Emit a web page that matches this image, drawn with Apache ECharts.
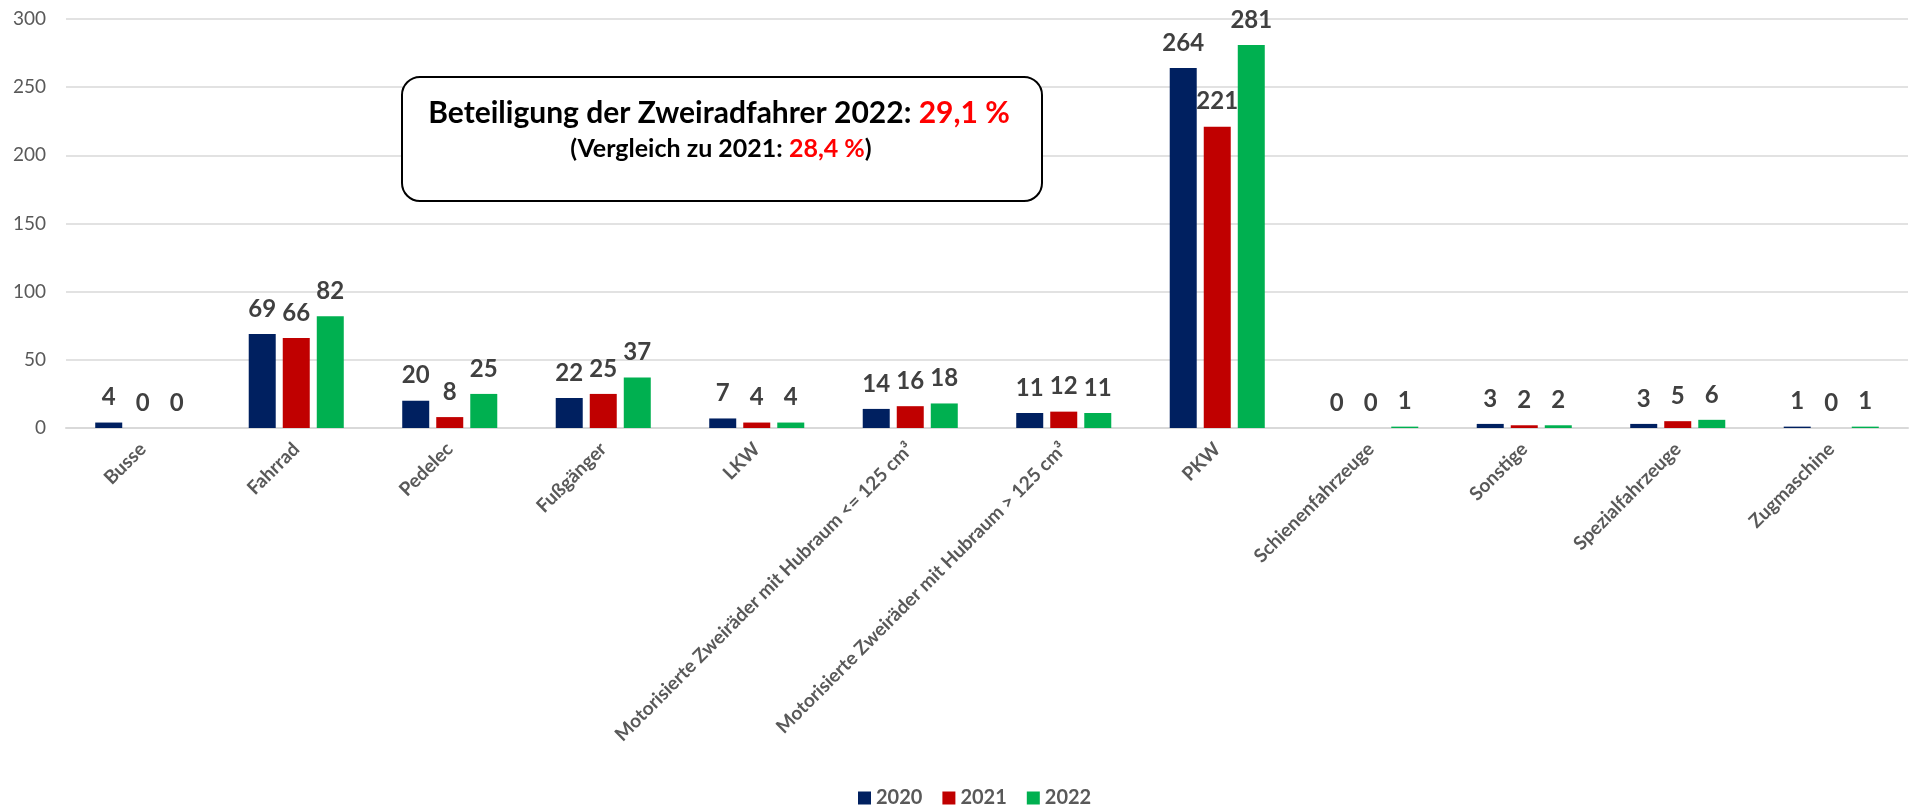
<!DOCTYPE html>
<html>
<head>
<meta charset="utf-8">
<script src="https://cdn.jsdelivr.net/npm/echarts@6/dist/echarts.min.js"></script>
<style>
  html, body { margin: 0; padding: 0; background: #fff; }
  #chart { width: 1910px; height: 806px; }
</style>
</head>
<body>
<div id="chart"></div>
<script>
// Kategorien (Verkehrsbeteiligung)
const categories = [
    "Busse", "Fahrrad", "Pedelec", "Fußgänger", "LKW",
    "Motorisierte Zweiräder mit Hubraum <= 125 cm³",
    "Motorisierte Zweiräder mit Hubraum > 125 cm³",
    "PKW", "Schienenfahrzeuge", "Sonstige", "Spezialfahrzeuge", "Zugmaschine"
];
const years = ["2020", "2021", "2022"];
const values2020 = [4, 69, 20, 22, 7, 14, 11, 264, 0, 3, 3, 1];
const values2021 = [0, 66, 8, 25, 4, 16, 12, 221, 0, 2, 5, 0];
const values2022 = [0, 82, 25, 37, 4, 18, 11, 281, 1, 2, 6, 1];
const colors = ["#002060", "#C00000", "#00B050"];

const FONT = "Lato";
const chart = echarts.init(document.getElementById("chart"));

function makeSeries(name, data, color){
    return {
        name: name,
        type: "bar",
        data: data,
        barWidth: 27,
        barGap: "26%",
        itemStyle: { color: color },
        label: {
            show: true,
            position: "top",
            distance: 13,
            fontFamily: FONT,
            fontWeight: "bold",
            fontSize: 24,
            color: "#404040"
        }
    };
}

const option = {
    animation: false,
    textStyle: { fontFamily: FONT },
    grid: { left: 66, right: 2, top: 19, bottom: 378 },
    legend: {
        data: years,
        top: 783,
        left: 853,
        itemWidth: 13,
        itemHeight: 13,
        itemGap: 20,
        icon: "rect",
        textStyle: { fontFamily: FONT, fontWeight: "bold", fontSize: 20, color: "#595959" }
    },
    xAxis: {
        type: "category",
        data: categories,
        axisTick: { show: false },
        axisLine: { lineStyle: { color: "#D9D9D9", width: 2 } },
        axisLabel: {
            interval: 0,
            rotate: 45,
            margin: 18,
            fontFamily: FONT,
            fontWeight: "bold",
            fontSize: 19,
            color: "#595959"
        }
    },
    yAxis: {
        type: "value",
        min: 0,
        max: 300,
        interval: 50,
        axisLine: { show: false },
        axisTick: { show: false },
        splitLine: { lineStyle: { color: "#D9D9D9", width: 1.5 } },
        axisLabel: { margin: 20, fontFamily: FONT, fontSize: 19, color: "#595959" }
    },
    series: [
        makeSeries(years[0], values2020, colors[0]),
        makeSeries(years[1], values2021, colors[1]),
        makeSeries(years[2], values2022, colors[2])
    ],
    graphic: [
        {
            type: "rect",
            left: 401,
            top: 76,
            shape: { width: 640, height: 124, r: 18 },
            style: { fill: "#fff", stroke: "#000", lineWidth: 2 },
            z: 10
        },
        {
            type: "text",
            z: 11,
            style: {
                x: 719, y: 113,
                text: "{b|Beteiligung der Zweiradfahrer 2022: }{r|29,1 %}",
                align: "center",
                verticalAlign: "middle",
                rich: {
                    b: { fontFamily: FONT, fontWeight: "bold", fontSize: 30, fill: "#000" },
                    r: { fontFamily: FONT, fontWeight: "bold", fontSize: 30, fill: "#FF0000" }
                }
            }
        },
        {
            type: "text",
            z: 11,
            style: {
                x: 721, y: 149,
                text: "{b|(Vergleich zu 2021: }{r|28,4 %}{b|)}",
                align: "center",
                verticalAlign: "middle",
                rich: {
                    b: { fontFamily: FONT, fontWeight: "bold", fontSize: 25, fill: "#000" },
                    r: { fontFamily: FONT, fontWeight: "bold", fontSize: 25, fill: "#FF0000" }
                }
            }
        }
    ]
};
chart.setOption(option);
</script>
</body>
</html>
